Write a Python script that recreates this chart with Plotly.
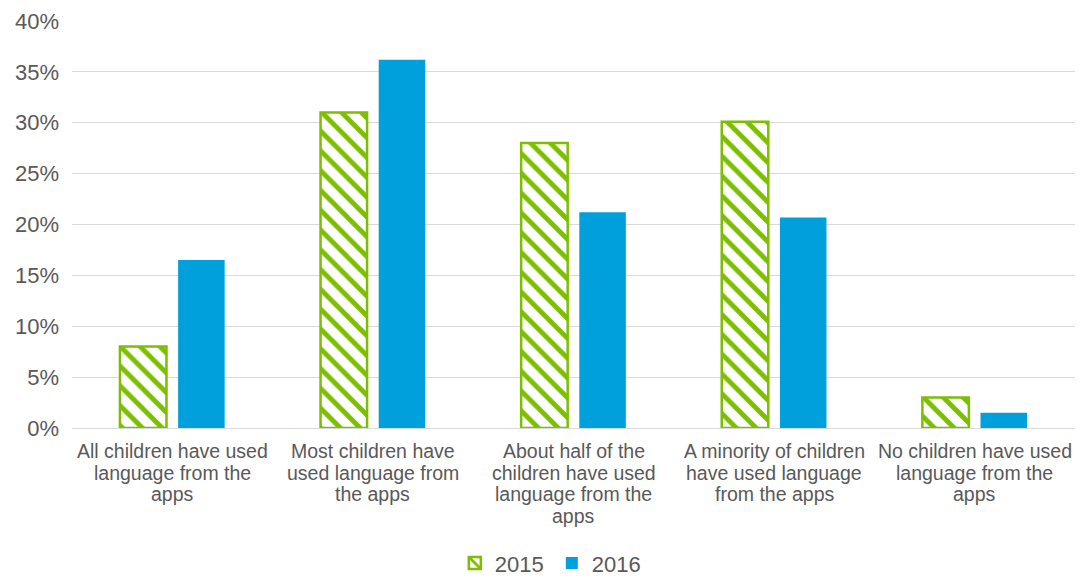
import plotly.graph_objects as go

categories = [
    "All children have used language from the apps",
    "Most children have used language from the apps",
    "About half of the children have used language from the apps",
    "A minority of children have used language from the apps",
    "No children have used language from the apps",
]
category_lines = [
    ["All children have used", "language from the", "apps"],
    ["Most children have", "used language from", "the apps"],
    ["About half of the", "children have used", "language from the", "apps"],
    ["A minority of children", "have used language", "from the apps"],
    ["No children have used", "language from the", "apps"],
]
values_2015 = [0.080, 0.310, 0.280, 0.301, 0.030]
values_2016 = [0.165, 0.362, 0.212, 0.207, 0.015]
y_ticks = [0, 0.05, 0.10, 0.15, 0.20, 0.25, 0.30, 0.35, 0.40]

green = "#7DBE00"
blue = "#00A0DC"
text_color = "#595959"

fig = go.Figure()
fig.add_trace(go.Bar(
    name="2015", x=categories, y=values_2015,
    marker=dict(color="white", line=dict(color=green, width=2.5),
                pattern=dict(shape="\\", fgcolor=green, bgcolor="white",
                             size=14, solidity=0.35, fillmode="replace")),
))
fig.add_trace(go.Bar(
    name="2016", x=categories, y=values_2016,
    marker=dict(color=blue, line=dict(color=blue, width=0)),
))

annotations = []
for cat, lines in zip(categories, category_lines):
    for i, line in enumerate(lines):
        annotations.append(dict(
            x=cat, xref="x", y=0, yref="paper", yanchor="middle",
            yshift=-(23 + 21.7 * i), text=line, showarrow=False,
            font=dict(size=19.5, color=text_color,
                      family="Liberation Sans, Arial, sans-serif"),
        ))

fig.update_layout(
    width=1082, height=577,
    margin=dict(l=72, r=7, t=21, b=149, autoexpand=False),
    paper_bgcolor="white", plot_bgcolor="white",
    barmode="group", bargap=0.42, bargroupgap=0.2,
    font=dict(family="Liberation Sans, Arial, sans-serif", color=text_color, size=17),
    legend=dict(orientation="h", x=0.51, xref="container", xanchor="center",
                y=0.024, yref="container", yanchor="middle",
                font=dict(size=22, color=text_color), traceorder="normal",
                itemwidth=30, entrywidth=52, entrywidthmode="pixels"),
    yaxis=dict(range=[0, 0.40], tickvals=y_ticks, tickformat=".0%",
               gridcolor="#D9D9D9", gridwidth=1, zeroline=False,
               showline=False, tickfont=dict(size=22), ticks="", ticklen=0,
               automargin=False, ticklabelstandoff=12),
    xaxis=dict(showline=True, linecolor="#D9D9D9", linewidth=1,
               showticklabels=False, ticks="", automargin=False),
    annotations=annotations,
)

fig.write_html("out.html")
